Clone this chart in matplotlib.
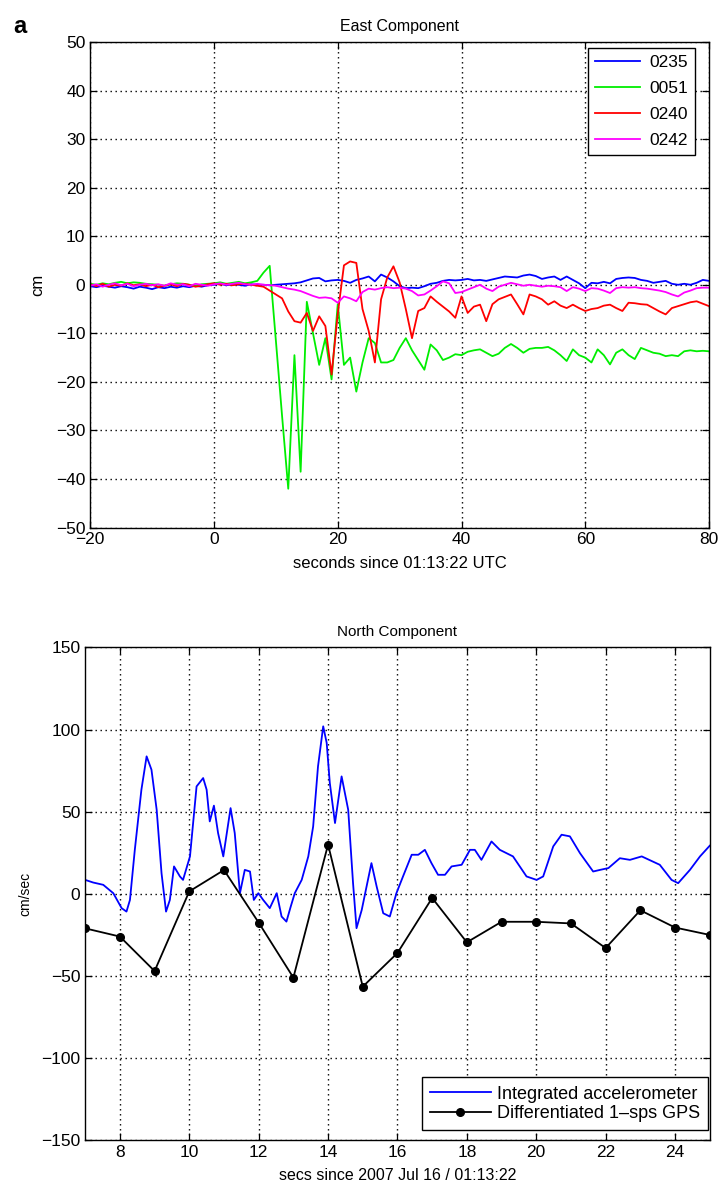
import numpy as np
import matplotlib
matplotlib.use("Agg")
import matplotlib.pyplot as plt

plt.rcParams['font.family'] = ['Liberation Sans', 'DejaVu Sans']

# ---- East component (cm), one sample per second, t = -20 .. 80
east_t = np.arange(-20, 81)
east_0235 = [
    -0.3, -0.5, -0.2, -0.4, -0.6, -0.3, -0.5, -0.8, -0.4, -0.6,
    -0.9, -0.5, -0.7, -0.4, -0.6, -0.3, -0.5, -0.2, -0.4, -0.1,
    0.0, 0.2, -0.1, 0.1, 0.0, -0.2, 0.1, 0.0, 0.0, -0.1,
    0.0, 0.1, 0.2, 0.3, 0.5, 0.9, 1.3, 1.4, 0.7, 0.9,
    1.0, 0.8, 0.4, 1.0, 1.3, 1.7, 0.7, 2.1, 1.5, 0.7,
    -0.3, -0.7, -0.6, -0.7, -0.3, 0.2, 0.4, 0.8, 1.0, 0.9,
    1.0, 1.2, 0.9, 1.0, 0.8, 1.1, 1.4, 1.7, 1.6, 1.5,
    1.9, 2.1, 1.8, 1.2, 1.5, 1.7, 1.0, 1.7, 1.0, 0.3,
    -0.7, 0.4, 0.3, 0.6, 0.3, 1.2, 1.4, 1.5, 1.4, 1.0,
    0.8, 0.4, 0.6, 0.8, 0.2, 0.0, 0.2, 0.0, 0.4, 1.0,
    0.8]
east_0051 = [
    0.2, 0.0, 0.3, 0.1, 0.4, 0.6, 0.3, 0.5, 0.4, 0.2,
    0.1, 0.0, -0.2, 0.1, 0.3, 0.2, 0.0, -0.3, 0.1, 0.2,
    0.3, 0.5, 0.2, 0.4, 0.6, 0.3, 0.5, 0.8, 2.5, 3.9,
    -11.5, -27.0, -42.0, -14.5, -38.5, -3.5, -10.0, -16.5, -11.0, -19.5,
    -4.0, -16.5, -15.0, -22.0, -16.0, -11.0, -12.0, -16.0, -16.0, -15.5,
    -13.0, -11.0, -13.5, -15.5, -17.5, -12.3, -13.5, -15.5, -15.0, -14.3,
    -14.5, -13.8, -13.5, -13.3, -14.0, -14.7, -14.2, -13.0, -12.2, -13.0,
    -14.0, -13.2, -13.0, -13.0, -12.8, -13.5, -14.5, -15.7, -13.3, -14.5,
    -15.0, -16.0, -13.3, -14.5, -16.4, -14.0, -13.3, -14.5, -15.3, -13.0,
    -13.5, -14.0, -14.2, -14.7, -14.5, -14.7, -13.7, -13.5, -13.7, -13.6,
    -13.7]
east_0240 = [
    0.1, -0.3, 0.2, -0.4, 0.0, -0.2, 0.3, -0.1, 0.1, -0.3,
    0.0, -0.5, -0.2, 0.1, -0.3, 0.2, 0.0, -0.4, -0.2, 0.1,
    0.3, 0.0, 0.2, -0.1, 0.1, 0.2, 0.0, -0.2, -0.4, -1.2,
    -2.0, -2.8, -5.5, -7.5, -7.8, -5.8, -9.5, -6.5, -8.5, -18.5,
    -6.0, 4.0, 4.8, 4.5, -5.0, -9.5, -16.0, -3.0, 1.5, 3.8,
    0.5, -5.0, -11.0, -5.4, -4.8, -2.4, -3.5, -4.5, -5.5, -6.8,
    -2.4, -5.8, -4.5, -4.1, -7.5, -4.0, -3.0, -2.5, -2.0, -4.0,
    -6.1, -2.0, -2.4, -3.0, -4.1, -3.4, -4.3, -4.8, -4.1, -4.8,
    -5.4, -5.0, -4.8, -4.3, -4.1, -4.8, -5.4, -3.7, -3.8, -4.0,
    -4.1, -4.8, -5.5, -6.1, -4.8, -4.4, -4.0, -3.6, -3.4, -3.9,
    -4.4]
east_0242 = [
    -0.2, 0.1, -0.4, 0.0, 0.3, -0.1, 0.2, -0.3, 0.0, 0.2,
    -0.1, 0.1, -0.2, 0.3, 0.0, 0.1, -0.3, 0.2, 0.0, -0.2,
    0.1, 0.3, 0.0, 0.2, 0.4, 0.1, 0.0, 0.2, 0.0, -0.1,
    -0.2, -0.5, -0.8, -1.0, -1.3, -1.8, -2.3, -2.7, -2.6, -2.8,
    -3.7, -2.4, -2.8, -3.4, -1.5, -0.8, -1.0, -0.7, -0.5, -0.7,
    -0.6, -0.8, -1.3, -2.2, -2.0, -1.2, -0.3, 0.7, 0.3, -1.7,
    -1.5, -1.0, -0.5, 0.0, -0.8, -1.3, -0.4, 0.0, 0.4, 0.1,
    -0.2, 0.0, -0.2, -0.4, -0.2, -0.3, -0.5, -1.3, -0.5, -0.8,
    -1.3, -0.7, -0.8, -1.2, -1.7, -0.7, -0.5, -0.6, -0.5, -0.7,
    -0.8, -1.0, -1.2, -1.5, -2.0, -2.4, -1.6, -1.2, -0.7, -0.6,
    -0.6]
station_names = ['0235', '0051', '0240', '0242']

# ---- North component velocity (cm/sec)
acc_t = [7.0, 7.23, 7.52, 7.81, 8.05, 8.19, 8.29, 8.43, 8.62, 8.77,
         8.91, 9.06, 9.2, 9.33, 9.44, 9.56, 9.73, 9.82, 10.02, 10.21,
         10.4, 10.5, 10.59, 10.71, 10.83, 10.98, 11.19, 11.31, 11.46, 11.6,
         11.75, 11.86, 11.99, 12.13, 12.32, 12.52, 12.66, 12.8, 12.92, 13.04,
         13.24, 13.43, 13.57, 13.71, 13.86, 13.96, 14.05, 14.2, 14.39, 14.58,
         14.72, 14.82, 14.97, 15.11, 15.25, 15.4, 15.59, 15.78, 15.97, 16.16,
         16.41, 16.6, 16.79, 16.98, 17.17, 17.37, 17.56, 17.85, 18.09, 18.23,
         18.42, 18.71, 18.95, 19.33, 19.72, 20.01, 20.2, 20.49, 20.73, 20.97,
         21.26, 21.64, 21.84, 22.08, 22.41, 22.7, 23.04, 23.56, 23.9, 24.09,
         24.43, 24.72, 25.0]
acc_v = [8.5, 6.9, 5.5, 0.4, -8.7, -10.8, -3.7, 26.8, 63.4, 83.7,
         75.6, 51.2, 12.6, -10.8, -3.7, 16.7, 10.6, 8.5, 22.8, 65.4,
         70.5, 63.4, 44.1, 53.7, 37.0, 22.8, 52.2, 37.0, 0.4, 14.6,
         13.6, -3.7, 0.4, -3.7, -8.7, 0.4, -13.8, -16.9, -8.0, 0.4,
         8.5, 22.8, 41.0, 77.6, 102.0, 91.9, 67.5, 43.1, 71.5, 51.2,
         6.5, -20.9, -9.8, 4.5, 18.7, 4.5, -11.8, -13.8, 0.4, 10.6,
         23.8, 23.8, 26.8, 18.7, 11.6, 11.6, 16.7, 17.7, 26.8, 26.8,
         20.7, 31.9, 26.8, 22.8, 10.6, 8.5, 10.6, 28.9, 36.0, 35.0,
         24.8, 13.6, 14.6, 15.7, 21.7, 20.7, 22.8, 17.7, 8.5, 6.5,
         14.6, 22.8, 29.3]
gps_t = np.arange(7, 26)
gps_v = [-21, -26, -47, 1.5, 14.5, -17.5, -51, 30, -56.5, -36,
         -2.5, -29.5, -17, -17, -18, -33, -10, -20.5, -25]


def matlab_style(ax):
    ax.grid(True, color='black', linestyle=(0, (1, 2.6)), linewidth=1.0)
    ax.tick_params(direction='in', top=True, right=True, length=5,
                   labelsize=12.5, width=0.9)
    for s in ax.spines.values():
        s.set_linewidth(1.0)


fig = plt.figure(figsize=(7.22, 11.99), dpi=100)

# top panel
ax1 = fig.add_axes([0.125, 0.560, 0.857, 0.405])
colors = ['#0000ff', '#00ee00', '#ff0000', '#ff00ff']
for vals, name, c in zip([east_0235, east_0051, east_0240, east_0242],
                         station_names, colors):
    ax1.plot(east_t, vals, color=c, lw=1.3, label=name)
ax1.set_xlim(-20, 80)
ax1.set_ylim(-50, 50)
ax1.set_xticks(np.arange(-20, 81, 20))
ax1.set_yticks(np.arange(-50, 51, 10))
matlab_style(ax1)
ax1.set_title('East Component', fontsize=11.5, pad=8)
ax1.set_xlabel('seconds since 01:13:22 UTC', fontsize=12, labelpad=6)
ax1.set_ylabel('cm', fontsize=12, labelpad=8)
leg1 = ax1.legend(loc='upper right', bbox_to_anchor=(0.977, 0.988),
                  fontsize=12.5, fancybox=False, framealpha=1,
                  edgecolor='black', handlelength=2.6, handletextpad=0.5,
                  borderpad=0.4, labelspacing=0.62, borderaxespad=0.0)
leg1.get_frame().set_linewidth(1.0)
fig.text(0.018, 0.978, 'a', fontsize=17, fontweight='bold', va='center')

# bottom panel
ax2 = fig.add_axes([0.118, 0.049, 0.865, 0.411])
ax2.plot(acc_t, acc_v, color='#0000ff', lw=1.3, label='Integrated accelerometer')
ax2.plot(gps_t, gps_v, color='black', lw=1.3, marker='o', markersize=5.5,
         label='Differentiated 1\u2013sps GPS')
ax2.set_xlim(7, 25)
ax2.set_ylim(-150, 150)
ax2.set_xticks(np.arange(8, 25, 2))
ax2.set_yticks(np.arange(-150, 151, 50))
matlab_style(ax2)
ax2.set_title('North Component', fontsize=11, pad=8)
ax2.set_xlabel('secs since 2007 Jul 16 / 01:13:22', fontsize=11.5, labelpad=6)
ax2.set_ylabel('cm/sec', fontsize=10, labelpad=6)
leg2 = ax2.legend(loc='lower right', bbox_to_anchor=(0.997, 0.02),
                  fontsize=13, fancybox=False, framealpha=1,
                  edgecolor='black', handlelength=3.4, handletextpad=0.3,
                  borderpad=0.45, labelspacing=0.15, borderaxespad=0.0)
leg2.get_frame().set_linewidth(1.0)

fig.savefig('out.png', dpi=100)
